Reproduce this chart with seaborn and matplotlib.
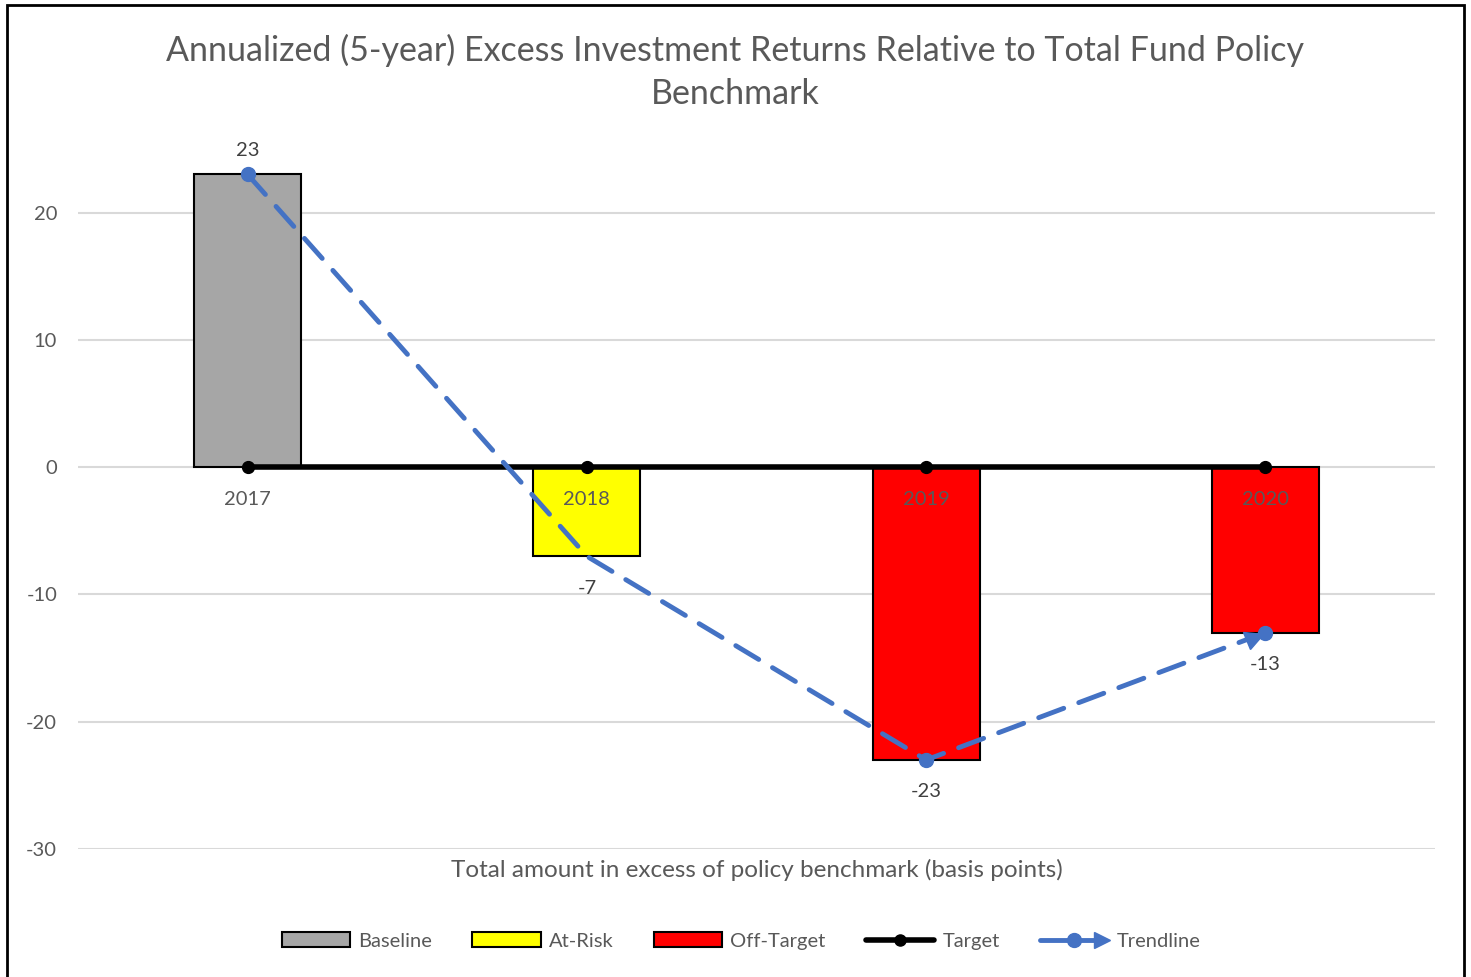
import matplotlib
matplotlib.use("Agg")
import math
import matplotlib.pyplot as plt
import matplotlib.transforms as mtransforms
from matplotlib.markers import MarkerStyle
import seaborn as sns
import pandas as pd
from matplotlib.patches import Patch, Rectangle
from matplotlib.lines import Line2D
from matplotlib.legend_handler import HandlerBase

# ---- data ----
years = ["2017", "2018", "2019", "2020"]
excess_bp = [23, -7, -23, -13]
status = ["Baseline", "At-Risk", "Off-Target", "Off-Target"]
target = [0, 0, 0, 0]
trend = [23, -7, -23, -13]
y_ticks = [-30, -20, -10, 0, 10, 20]

title = "Annualized (5-year) Excess Investment Returns Relative to Total Fund Policy\nBenchmark"
axis_title = "Total amount in excess of policy benchmark (basis points)"

palette = {"Baseline": "#A6A6A6", "At-Risk": "#FFFF00", "Off-Target": "#FF0000"}
TXT = "#595959"
BLUE = "#4472C4"

sns.set_theme(style="white")
plt.rcParams["font.family"] = ["Lato", "DejaVu Sans"]

W, H = 1471, 977
fig = plt.figure(figsize=(W / 100, H / 100), dpi=100)
ax = fig.add_axes([78 / W, 1 - 849 / H, (1435 - 78) / W, (849 - 149) / H])

df = pd.DataFrame({"year": years, "value": excess_bp, "status": status})
sns.barplot(data=df, x="year", y="value", hue="status", palette=palette,
            dodge=False, width=0.315, edgecolor="black", linewidth=1.5,
            saturation=1, legend=False, ax=ax, zorder=2)

ax.set_xlim(-0.5, 3.5)
ax.set_ylim(-30, 25)
ax.set_yticks(y_ticks)
ax.set_yticklabels([str(t) for t in y_ticks], color=TXT, fontsize=14.5)
ax.tick_params(axis="y", length=0, pad=15)
ax.set_xticks([])
ax.set_xlabel("")
ax.set_ylabel("")
for s in ax.spines.values():
    s.set_visible(False)
for t in y_ticks:
    ax.axhline(t, color="#D9D9D9", lw=1.5, zorder=0)

# bar value labels (outside end)
for cont in ax.containers:
    for rect in cont:
        h = rect.get_height()
        if h != h or h == 0:
            continue
        xc = rect.get_x() + rect.get_width() / 2
        off = 17 if h > 0 else -23
        ax.annotate(f"{h:.0f}", xy=(xc, h), xytext=(0, off),
                    textcoords="offset points", ha="center", va="center",
                    color="#404040", fontsize=14.5, zorder=6)

# target line
xs = list(range(len(years)))
ax.plot(xs, target, color="black", lw=4, marker="o", markersize=8.5, zorder=4,
        solid_capstyle="butt")

# category labels just below zero line
for i, yr in enumerate(years):
    ax.annotate(yr, xy=(i, 0), xytext=(0, -23), textcoords="offset points",
                ha="center", va="center", color=TXT, fontsize=14.5, zorder=6)

# trendline
ax.plot(xs, trend, color=BLUE, lw=3.5, ls=(0, (5.5, 3.3)), dash_capstyle="round",
        marker="o", markersize=10, markevery=[0, 2, 3], zorder=5)
# arrowhead at the last point
p1 = ax.transData.transform((xs[-2], trend[-2]))
p2 = ax.transData.transform((xs[-1], trend[-1]))
ang = math.degrees(math.atan2(p2[1] - p1[1], p2[0] - p1[0]))
back = 11 / 100.0  # inches
off = mtransforms.ScaledTranslation(-back * math.cos(math.radians(ang)),
                                    -back * math.sin(math.radians(ang)),
                                    fig.dpi_scale_trans)
ax.plot([xs[-1]], [trend[-1]], ls="none", color=BLUE,
        marker=MarkerStyle(">", transform=mtransforms.Affine2D().rotate_deg(ang)),
        markersize=13, transform=ax.transData + off, zorder=5)

# titles
fig.text(735 / W, 1 - 72 / H, title, ha="center", va="center", fontsize=24.5,
         color=TXT, linespacing=1.42)
fig.text(757 / W, 1 - 870 / H, axis_title, ha="center", va="center",
         fontsize=17.5, color=TXT)


class TrendHandler(HandlerBase):
    def create_artists(self, legend, orig_handle, xdescent, ydescent, width,
                       height, fontsize, trans):
        y = height / 2 - ydescent
        x0 = -xdescent
        x1 = width - xdescent
        ln = Line2D([x0, x1 - 8], [y, y], color=BLUE, lw=3.5,
                    solid_capstyle="round", transform=trans)
        dot = Line2D([(x0 + x1) / 2], [y], color=BLUE, marker="o",
                     markersize=10, ls="none", transform=trans)
        tri = Line2D([x1 - 5], [y], color=BLUE, marker=">", markersize=11,
                     ls="none", transform=trans)
        return [ln, dot, tri]


handles = [
    Patch(facecolor=palette["Baseline"], edgecolor="black", lw=1.5, label="Baseline"),
    Patch(facecolor=palette["At-Risk"], edgecolor="black", lw=1.5, label="At-Risk"),
    Patch(facecolor=palette["Off-Target"], edgecolor="black", lw=1.5, label="Off-Target"),
    Line2D([0], [0], color="black", lw=4, marker="o", markersize=8, label="Target"),
    Line2D([0], [0], color=BLUE, lw=3, label="Trendline"),
]
leg = fig.legend(handles=handles, loc="center", bbox_to_anchor=(741 / W, 1 - 941 / H),
                 ncol=5, frameon=False, fontsize=14.5, handlelength=3.4,
                 handleheight=0.7, handletextpad=0.4, columnspacing=2.0,
                 handler_map={handles[4]: TrendHandler()})
for t in leg.get_texts():
    t.set_color(TXT)

# outer frame
fig.patches.append(Rectangle((7 / W, -0.02), (1464 - 7) / W, 1.02 - 5 / H,
                             transform=fig.transFigure, fill=False,
                             edgecolor="black", lw=2))

fig.savefig("out.png", dpi=100)
